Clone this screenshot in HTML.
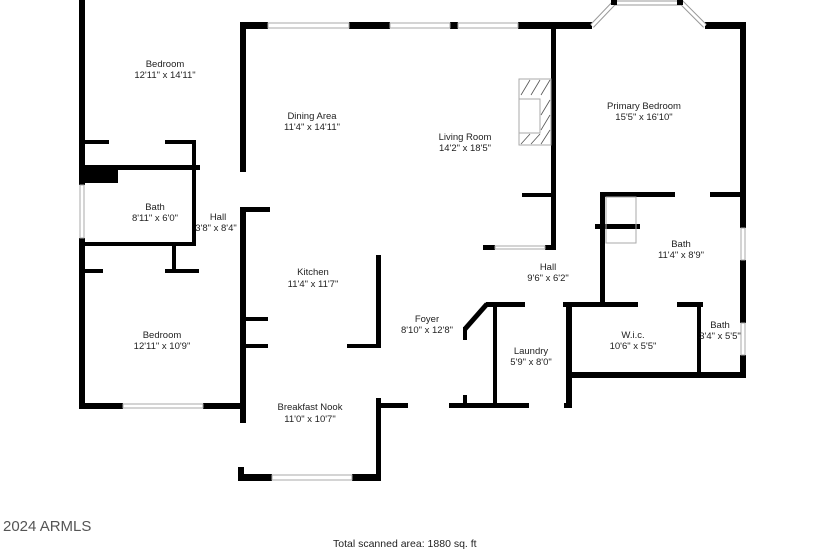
<!DOCTYPE html>
<html><head><meta charset="utf-8"><style>
html,body{margin:0;padding:0;background:#fff;width:825px;height:550px;overflow:hidden}
text{font-family:"Liberation Sans",sans-serif;font-size:9.5px;fill:#222;text-anchor:middle}
</style></head><body>
<svg width="825" height="550" viewBox="0 0 825 550" xmlns="http://www.w3.org/2000/svg">
<g fill="#000">
<rect x="79" y="0" width="6" height="185"/>
<rect x="79" y="238" width="6" height="171"/>
<rect x="79" y="403" width="44" height="6"/>
<rect x="203" y="403" width="43" height="6"/>
<rect x="84" y="140" width="25" height="4"/>
<rect x="165" y="140" width="31" height="4"/>
<rect x="192" y="140" width="4" height="106"/>
<rect x="84" y="165" width="116" height="5"/>
<rect x="84" y="165" width="34" height="18"/>
<rect x="84" y="242" width="112" height="4"/>
<rect x="172" y="243" width="4" height="28"/>
<rect x="84" y="269" width="19" height="4"/>
<rect x="165" y="269" width="34" height="4"/>
<rect x="240" y="22" width="6" height="150"/>
<rect x="240" y="22" width="28" height="7"/>
<rect x="349" y="22" width="41" height="7"/>
<rect x="450" y="22" width="8" height="7"/>
<rect x="518" y="22" width="74" height="7"/>
<rect x="705" y="22" width="41" height="7"/>
<rect x="740" y="22" width="6" height="206"/>
<rect x="740" y="260" width="6" height="63"/>
<rect x="740" y="355" width="6" height="23"/>
<rect x="240" y="207" width="6" height="216"/>
<rect x="240" y="207" width="30" height="5"/>
<rect x="246" y="317" width="22" height="4"/>
<rect x="246" y="344" width="22" height="4"/>
<rect x="347" y="344" width="33" height="4"/>
<rect x="376" y="255" width="5" height="93"/>
<rect x="238" y="467" width="6" height="14"/>
<rect x="238" y="474" width="34" height="7"/>
<rect x="352" y="474" width="29" height="7"/>
<rect x="376" y="398" width="5" height="83"/>
<rect x="376" y="403" width="32" height="5"/>
<rect x="551" y="22" width="5" height="228"/>
<rect x="522" y="193" width="30" height="4"/>
<rect x="483" y="245" width="12" height="5"/>
<rect x="545" y="245" width="11" height="5"/>
<rect x="595" y="224" width="45" height="5"/>
<rect x="600" y="192" width="75" height="5"/>
<rect x="710" y="192" width="36" height="5"/>
<rect x="600" y="192" width="5" height="115"/>
<rect x="486" y="302" width="39" height="5"/>
<rect x="563" y="302" width="75" height="5"/>
<rect x="677" y="302" width="26" height="5"/>
<rect x="740" y="302" width="6" height="5"/>
<rect x="463" y="327" width="4" height="13"/>
<rect x="463" y="395" width="4" height="12"/>
<rect x="493" y="303" width="4" height="103"/>
<rect x="449" y="403" width="80" height="5"/>
<rect x="564" y="403" width="8" height="5"/>
<rect x="566" y="303" width="6" height="105"/>
<rect x="566" y="372" width="180" height="6"/>
<rect x="697" y="303" width="4" height="72"/>
</g>
<line x1="487" y1="304" x2="465" y2="329" stroke="#000" stroke-width="5"/>
<g fill="none">
<polyline points="592,26 614,3 682,3 705,26" stroke="#999" stroke-width="5"/>
<polyline points="592,26 614,3 682,3 705,26" stroke="#fff" stroke-width="3"/>
</g>
<rect x="611" y="0" width="6" height="5" fill="#000"/>
<rect x="677" y="0" width="6" height="5" fill="#000"/>
<g fill="none" stroke="#aaa" stroke-width="1">
<rect x="268" y="23" width="81" height="5"/>
<rect x="390" y="23" width="60" height="5"/>
<rect x="458" y="23" width="60" height="5"/>
<rect x="80" y="185" width="4" height="53"/>
<rect x="123" y="404" width="80" height="4"/>
<rect x="272" y="475" width="80" height="5"/>
<rect x="495" y="246" width="50" height="3"/>
<rect x="741" y="228" width="4" height="32"/>
<rect x="741" y="323" width="4" height="32"/>
<rect x="606" y="197" width="30" height="46"/>
<rect x="519" y="79" width="32" height="66"/>
<rect x="519" y="99" width="21" height="34"/>
</g>
<g stroke="#555" stroke-width="0.8">
<line x1="521" y1="95" x2="530" y2="80"/><line x1="531" y1="95" x2="540" y2="80"/><line x1="541" y1="95" x2="550" y2="80"/>
<line x1="541" y1="115" x2="550" y2="100"/><line x1="541" y1="130" x2="550" y2="115"/>
<line x1="521" y1="144" x2="530" y2="134"/><line x1="531" y1="144" x2="540" y2="134"/><line x1="541" y1="144" x2="550" y2="130"/>
</g>
<text x="165" y="67">Bedroom</text><text x="165" y="78">12'11" x 14'11"</text>
<text x="312" y="119">Dining Area</text><text x="312" y="130">11'4" x 14'11"</text>
<text x="465" y="140">Living Room</text><text x="465" y="151">14'2" x 18'5"</text>
<text x="644" y="109">Primary Bedroom</text><text x="644" y="120">15'5" x 16'10"</text>
<text x="155" y="210">Bath</text><text x="155" y="221">8'11" x 6'0"</text>
<text x="218" y="220">Hall</text><text x="216" y="231">3'8" x 8'4"</text>
<text x="313" y="275">Kitchen</text><text x="313" y="287">11'4" x 11'7"</text>
<text x="681" y="247">Bath</text><text x="681" y="258">11'4" x 8'9"</text>
<text x="548" y="270">Hall</text><text x="548" y="281">9'6" x 6'2"</text>
<text x="427" y="322">Foyer</text><text x="427" y="333">8'10" x 12'8"</text>
<text x="531" y="354">Laundry</text><text x="531" y="365">5'9" x 8'0"</text>
<text x="633" y="338">W.i.c.</text><text x="633" y="349">10'6" x 5'5"</text>
<text x="720" y="328">Bath</text><text x="720" y="339">3'4" x 5'5"</text>
<text x="162" y="338">Bedroom</text><text x="162" y="349">12'11" x 10'9"</text>
<text x="310" y="410">Breakfast Nook</text><text x="310" y="422">11'0" x 10'7"</text>
<text x="3" y="531" style="text-anchor:start;font-size:15px;fill:#555">2024 ARMLS</text>
<text x="333" y="547" style="text-anchor:start;font-size:10.5px">Total scanned area: 1880 sq. ft</text>
</svg>
</body></html>
